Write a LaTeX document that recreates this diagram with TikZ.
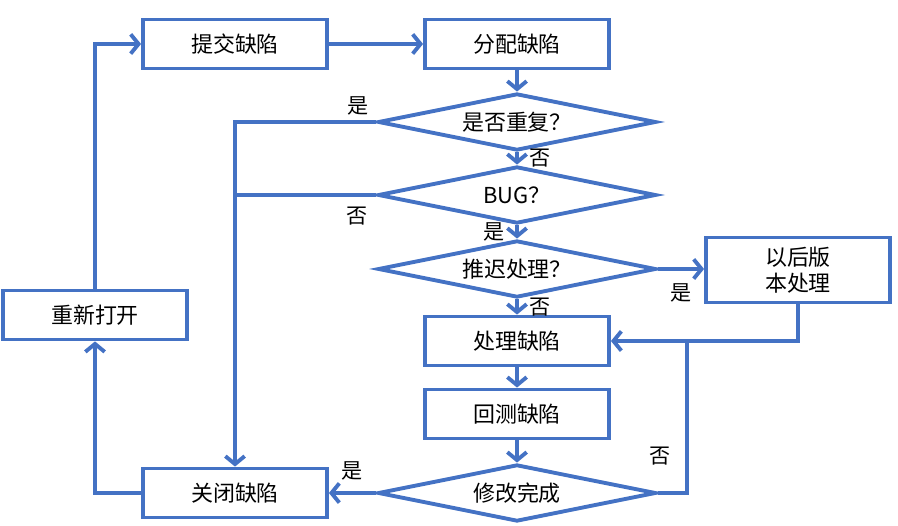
\documentclass[tikz,border=0pt]{standalone}
\usepackage{fontspec}
\setmainfont{Noto Sans CJK SC}
\usetikzlibrary{shapes.geometric,arrows.meta}
\definecolor{flowblue}{RGB}{68,114,196}
\newcommand{\dtext}[1]{\makebox[1.6cm]{\raisebox{0pt}[9.5pt][0pt]{#1}}}
\begin{document}
\begin{tikzpicture}[x=0.02cm,y=-0.02cm,
  font=\fontsize{12.5}{15}\selectfont,
  box/.style={draw=flowblue,line width=2.2pt,minimum width=3.68cm,minimum height=0.98cm,inner sep=0pt},
  decision/.style={diamond,draw=flowblue,line width=2.2pt,aspect=4.9,minimum width=5.56cm,minimum height=1.14cm,inner sep=0pt},
  flow/.style={draw=flowblue,line width=2.2pt,-{Straight Barb[length=4.5pt,width=11pt]}},
  line/.style={draw=flowblue,line width=2.2pt},
  lbl/.style={font=\fontsize{12}{14}\selectfont,inner sep=2pt}]
\useasboundingbox (0,0) rectangle (898,526);
% nodes
\node[box] (submit) at (235,44) {提交缺陷};
\node[box] (assign) at (517,44) {分配缺陷};
\node[decision] (dup) at (517,122) {\dtext{是否重复？}};
\node[decision] (bug) at (517,195) {\dtext{BUG？}};
\node[decision] (defer) at (517,269) {\dtext{推迟处理？}};
\node[box,minimum height=1.3cm,align=center] (later) at (798,270) {以后版\\本处理};
\node[box] (fix) at (517,341) {处理缺陷};
\node[box] (retest) at (517,414) {回测缺陷};
\node[decision] (done) at (517,493) {\dtext{修改完成}};
\node[box] (close) at (235,493) {关闭缺陷};
\node[box] (reopen) at (95,315) {重新打开};
\coordinate (join) at (687,341);
% main line
\draw[flow] (submit) -- (assign);
\draw[flow] (assign) -- (dup);
\draw[flow] (dup) -- node[lbl,right,xshift=4pt]{否} (bug);
\draw[flow] (bug) -- node[lbl,left,xshift=-4pt]{是} (defer);
\draw[flow] (defer) -- node[lbl,right,xshift=4pt]{否} (fix);
\draw[flow] (fix) -- (retest);
\draw[flow] (retest) -- (done);
% branches
\draw[flow] (dup.west) node[lbl,above left,xshift=-1pt,yshift=1pt]{是} -| (close.north);
\draw[line] (bug.west) node[lbl,below left,xshift=-2pt,yshift=-4pt]{否} -- (bug.west -| close.north);
\draw[flow] (defer.east) -- node[lbl,below,yshift=-5pt]{是} (defer.east -| later.west);
\draw[flow] (later.south) |- (fix.east);
\draw[line] (done.east) -| node[lbl,pos=0.62,left,xshift=-6pt]{否} (join);
\draw[flow] (done.west) -- node[lbl,above,yshift=4pt]{是} (close.east);
\draw[flow] (close.west) -| (reopen.south);
\draw[flow] (reopen.north) |- (submit.west);
\end{tikzpicture}
\end{document}
